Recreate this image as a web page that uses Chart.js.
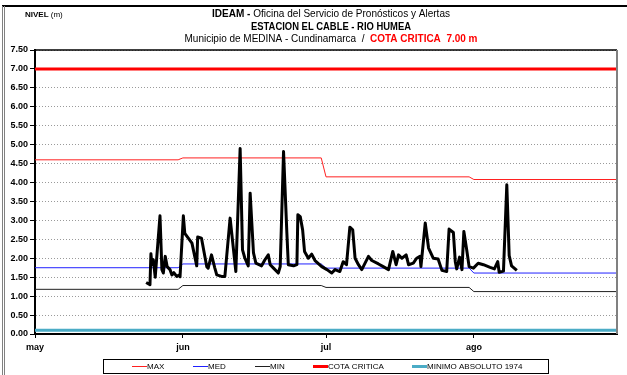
<!DOCTYPE html>
<html>
<head>
<meta charset="utf-8">
<title>Nivel - Estacion El Cable</title>
<script src="https://cdn.jsdelivr.net/npm/chart.js@4.4.1/dist/chart.umd.min.js"></script>
<style>
  html, body { margin: 0; padding: 0; background: #fff; }
  #wrap { width: 627px; height: 375px; }
</style>
</head>
<body>
<div id="wrap"><canvas id="myChart" width="627" height="375"></canvas></div>
<script>
// Days are counted from 1 May
var monthDays = [0, 31, 61, 92];
var monthLabels = ['may', 'jun', 'jul', 'ago'];
var levelTicks = [0, 0.5, 1, 1.5, 2, 2.5, 3, 3.5, 4, 4.5, 5, 5.5, 6, 6.5, 7, 7.5];

// Historical reference levels (m)
var maxDays = [0, 30, 31, 60, 61, 91, 92, 122];
var maxLevels = [4.60, 4.60, 4.65, 4.65, 4.15, 4.15, 4.08, 4.08];
var medDays = [0, 30, 31, 60, 61, 91, 92, 122];
var medLevels = [1.75, 1.75, 1.85, 1.85, 1.74, 1.74, 1.61, 1.61];
var minDays = [0, 30, 31, 60, 61, 91, 92, 122];
var minLevels = [1.18, 1.18, 1.28, 1.28, 1.23, 1.23, 1.12, 1.12];
var cotaDays = [0, 122];
var cotaLevels = [7.00, 7.00];
var minAbsDays = [0, 122];
var minAbsLevels = [0.10, 0.10];

// Observed level readings
var obsDays = [23.3, 24.1, 24.3, 24.5, 24.8, 25.2, 26.2, 26.6, 26.9, 27.3,
    27.7, 28.3, 28.7, 29.1, 29.7, 30.3, 30.4, 31.1, 31.4, 32.9,
    33.9, 34.1, 34.9, 36.0, 36.3, 37.0, 37.7, 38.1, 39.1, 39.8,
    40.9, 42.1, 43.0, 43.5, 44.0, 44.7, 45.1, 45.8, 46.3, 47.5,
    48.2, 48.9, 49.3, 50.0, 51.0, 51.4, 52.1, 52.8, 53.1, 54.2,
    54.9, 55.1, 55.6, 56.1, 56.5, 57.3, 58.0, 58.7, 60.1, 61.2,
    62.2, 62.9, 63.9, 64.6, 65.3, 66.0, 66.6, 67.1, 67.8, 68.5,
    69.9, 70.6, 72.0, 73.0, 74.1, 75.0, 75.7, 76.2, 76.9, 77.8,
    78.3, 79.3, 80.0, 80.7, 80.9, 81.8, 82.5, 83.5, 84.5, 85.3,
    86.3, 86.8, 87.7, 88.1, 88.4, 89.0, 89.5, 89.9, 90.5, 91.0,
    91.9, 92.9, 94.0, 95.4, 96.3, 97.0, 97.3, 98.2, 98.9, 99.4,
    99.9, 101.0];
var obsLevels = [1.36, 1.30, 2.12, 1.83, 1.96, 1.50, 3.12, 1.70, 1.61, 2.05,
    1.78, 1.70, 1.56, 1.62, 1.52, 1.56, 1.51, 3.12, 2.66, 2.40,
    1.80, 2.56, 2.53, 1.78, 1.74, 2.09, 1.74, 1.56, 1.52, 1.52,
    3.06, 1.65, 4.90, 2.22, 2.00, 1.80, 3.72, 2.14, 1.87, 1.80,
    1.96, 2.09, 1.83, 1.74, 1.61, 1.78, 4.82, 2.66, 1.83, 1.80,
    1.83, 3.15, 3.10, 2.75, 2.18, 2.00, 2.11, 1.94, 1.78, 1.70,
    1.61, 1.70, 1.65, 1.91, 1.83, 2.82, 2.75, 2.00, 1.83, 1.70,
    2.05, 1.94, 1.85, 1.78, 1.70, 2.18, 1.83, 2.09, 2.00, 2.09,
    1.83, 1.87, 2.00, 2.05, 1.78, 2.93, 2.27, 2.00, 1.98, 1.68,
    1.65, 2.77, 2.68, 1.91, 1.72, 2.03, 1.70, 2.71, 2.22, 1.78,
    1.74, 1.87, 1.83, 1.76, 1.72, 1.91, 1.63, 1.66, 3.94, 2.07,
    1.80, 1.68];

function points(days, levels) {
    return days.map(function (d, i) { return { x: d, y: levels[i] }; });
}

// Draws a line of text made of differently styled runs, centred on cx and
// squeezed to the given width
function drawRuns(ctx, runs, cx, y, width) {
    var total = 0;
    runs.forEach(function (r) {
        ctx.font = r.font;
        r.w = ctx.measureText(r.text).width;
        total += r.w;
    });
    var k = Math.min(1, width / total);
    var x = cx - total * k / 2;
    ctx.textAlign = 'left';
    ctx.textBaseline = 'middle';
    runs.forEach(function (r) {
        ctx.font = r.font;
        ctx.fillStyle = r.color;
        ctx.fillText(r.text, x, y, r.w * k);
        x += r.w * k;
    });
}

var FONT = 'Arial, "Liberation Sans", sans-serif';

// Frame, titles and legend box
var sheetPlugin = {
    id: 'sheet',
    afterDraw: function (chart) {
        var ctx = chart.ctx;
        var area = chart.chartArea;
        ctx.save();

        // outer frame (top and left edges)
        ctx.strokeStyle = '#000';
        ctx.lineWidth = 2;
        ctx.beginPath();
        ctx.moveTo(2, 6);
        ctx.lineTo(627, 6);
        ctx.stroke();
        ctx.strokeStyle = '#808080';
        ctx.lineWidth = 1;
        ctx.beginPath();
        ctx.moveTo(2.5, 6);
        ctx.lineTo(2.5, 375);
        ctx.moveTo(4.5, 6);
        ctx.lineTo(4.5, 375);
        ctx.stroke();

        // plot frame: top and right edges
        ctx.strokeStyle = '#000';
        ctx.lineWidth = 1.5;
        ctx.beginPath();
        ctx.moveTo(area.left, area.top);
        ctx.lineTo(area.right, area.top);
        ctx.stroke();
        ctx.strokeStyle = '#808080';
        ctx.lineWidth = 2;
        ctx.beginPath();
        ctx.moveTo(area.right, area.top);
        ctx.lineTo(area.right, area.bottom);
        ctx.stroke();

        // titles
        var cx = 331;
        drawRuns(ctx, [
            { text: 'IDEAM - ', font: 'bold 11px ' + FONT, color: '#000' },
            { text: 'Oficina del Servicio de Pronósticos y Alertas', font: '11px ' + FONT, color: '#000' }
        ], cx, 14, 238);
        drawRuns(ctx, [
            { text: 'ESTACION EL CABLE - RIO HUMEA', font: 'bold 11px ' + FONT, color: '#000' }
        ], cx, 26.5, 160);
        drawRuns(ctx, [
            { text: 'Municipio de MEDINA - Cundinamarca  /  ', font: '11px ' + FONT, color: '#000' },
            { text: 'COTA CRITICA  7.00 m', font: 'bold 11px ' + FONT, color: '#ff0000' }
        ], cx, 39, 293);

        // axis title
        ctx.textAlign = 'left';
        ctx.textBaseline = 'middle';
        ctx.fillStyle = '#000';
        ctx.font = 'bold 8px ' + FONT;
        ctx.fillText('NIVEL', 25, 15);
        var w = ctx.measureText('NIVEL ').width;
        ctx.font = '8px ' + FONT;
        ctx.fillText('(m)', 25 + w, 15);

        // legend
        ctx.strokeStyle = '#000';
        ctx.lineWidth = 1;
        ctx.strokeRect(103.5, 359.5, 445, 14);
        var legendX = [132, 193, 255, 313, 412];
        var sets = chart.data.datasets.slice(1);
        ctx.font = '8px ' + FONT;
        sets.forEach(function (ds, i) {
            var x = legendX[i];
            ctx.strokeStyle = ds.borderColor;
            ctx.lineWidth = ds.borderWidth;
            ctx.beginPath();
            ctx.moveTo(x, 366.5);
            ctx.lineTo(x + 15, 366.5);
            ctx.stroke();
            ctx.fillStyle = '#000';
            ctx.fillText(ds.label, x + 15, 367);
        });
        ctx.restore();
    }
};

var ctx = document.getElementById('myChart').getContext('2d');
var myChart = new Chart(ctx, {
    type: 'line',
    data: {
        datasets: [{
            label: 'NIVEL',
            data: points(obsDays, obsLevels),
            borderColor: '#000',
            borderWidth: 3,
            borderJoinStyle: 'round'
        }, {
            label: 'MAX',
            data: points(maxDays, maxLevels),
            borderColor: '#ff2020',
            borderWidth: 1
        }, {
            label: 'MED',
            data: points(medDays, medLevels),
            borderColor: '#2020ff',
            borderWidth: 1
        }, {
            label: 'MIN',
            data: points(minDays, minLevels),
            borderColor: '#202020',
            borderWidth: 1
        }, {
            label: 'COTA CRITICA',
            data: points(cotaDays, cotaLevels),
            borderColor: '#ff0000',
            borderWidth: 3
        }, {
            label: 'MINIMO ABSOLUTO 1974',
            data: points(minAbsDays, minAbsLevels),
            borderColor: '#4bacc6',
            borderWidth: 3
        }]
    },
    options: {
        responsive: false,
        animation: false,
        layout: { padding: { left: 6, right: 10, top: 50, bottom: 21 } },
        elements: {
            point: { radius: 0 },
            line: { tension: 0 }
        },
        plugins: {
            legend: { display: false },
            tooltip: { enabled: false }
        },
        scales: {
            x: {
                type: 'linear',
                min: 0,
                max: 122,
                afterBuildTicks: function (axis) {
                    axis.ticks = monthDays.map(function (d) { return { value: d }; });
                },
                afterFit: function (axis) { axis.height = 20; },
                ticks: {
                    autoSkip: false,
                    maxRotation: 0,
                    padding: 4,
                    color: '#000',
                    font: { family: FONT, size: 9, weight: 'bold' },
                    callback: function (value) { return monthLabels[monthDays.indexOf(value)]; }
                },
                grid: { drawOnChartArea: false, tickLength: 4, color: '#000' },
                border: { color: '#000', width: 2 }
            },
            y: {
                min: 0,
                max: 7.5,
                afterBuildTicks: function (axis) {
                    axis.ticks = levelTicks.map(function (v) { return { value: v }; });
                },
                afterFit: function (axis) { axis.width = 29; },
                ticks: {
                    padding: 2,
                    color: '#000',
                    font: { family: FONT, size: 9, weight: 'bold' },
                    callback: function (value) { return value.toFixed(2); }
                },
                grid: { color: '#9a9a9a', tickColor: '#000', tickLength: 5, lineWidth: 1 },
                border: { color: '#000', width: 2, dash: [1, 2] }
            }
        }
    },
    plugins: [sheetPlugin]
});
</script>
</body>
</html>
